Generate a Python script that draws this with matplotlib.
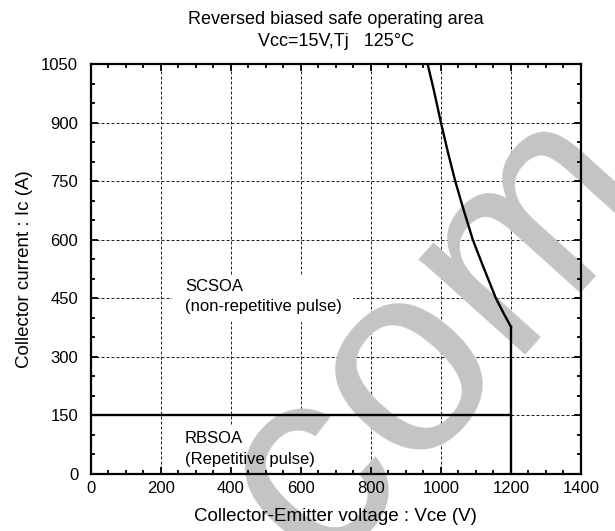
import numpy as np
import matplotlib
matplotlib.use('Agg')
from matplotlib import pyplot as plt
from matplotlib.patches import Rectangle
from matplotlib.ticker import MultipleLocator

plt.rcParams['font.family'] = ['Liberation Sans', 'DejaVu Sans']

# curve (Vce, Ic)
curve_v = [962, 980, 1000, 1020, 1040, 1062, 1091, 1120, 1157, 1180, 1200]
curve_i = [1050, 982, 900, 824, 753, 685, 600, 533, 450, 410, 377]
rbsoa_i = 150
vmax = 1200

xticks = [0, 200, 400, 600, 800, 1000, 1200, 1400]
yticks = [0, 150, 300, 450, 600, 750, 900, 1050]

fig = plt.figure(figsize=(6.15, 5.31), dpi=100)
ax = fig.add_axes([0.1475, 0.1073, 0.7972, 0.7722])
ax.set_facecolor('none')
ax.set_xlim(0, 1400)
ax.set_ylim(0, 1050)

# dashed grid drawn by hand so that it sits under the watermark
for x in xticks[1:-1]:
    ax.axvline(x, color='#222222', lw=0.72, ls=(0, (3, 2)), zorder=0.5)
for y in yticks[1:-1]:
    ax.axhline(y, color='#222222', lw=0.72, ls=(0, (3, 2)), zorder=0.5)

# white patches where the notes hide the grid
px = 1400 / 490.3
py = 1050 / 410.0
ax.add_patch(Rectangle((81 * px, 152 * py), 181 * px, 47 * py, fc='white', ec='none', zorder=0.8))
ax.add_patch(Rectangle((81 * px, 0), 181 * px, 49 * py, fc='white', ec='none', zorder=0.8))

# watermark
ax.text(0.677, 0.405, 'com', transform=fig.transFigure, fontsize=195, color='#c4c4c4',
        rotation=48, rotation_mode='anchor', ha='center', va='center_baseline',
        clip_on=False, zorder=1)

ax.plot(curve_v, curve_i, color='black', lw=1.7, zorder=2)
ax.plot([vmax, vmax], [0, curve_i[-1]], color='black', lw=1.7, zorder=2)
ax.plot([0, vmax], [rbsoa_i, rbsoa_i], color='black', lw=1.7, zorder=2)

ax.text(269, 479, 'SCSOA', fontsize=12, va='center', zorder=3)
ax.text(269, 428, '(non-repetitive pulse)', fontsize=12, va='center', zorder=3)
ax.text(269, 92, 'RBSOA', fontsize=12, va='center', zorder=3)
ax.text(269, 38, '(Repetitive pulse)', fontsize=12, va='center', zorder=3)

ax.set_xticks(xticks)
ax.set_yticks(yticks)
ax.xaxis.set_minor_locator(MultipleLocator(50))
ax.yaxis.set_minor_locator(MultipleLocator(50))
ax.tick_params(which='both', direction='in', top=True, right=True, width=1.3, labelsize=12)
ax.tick_params(which='major', length=5)
ax.tick_params(which='minor', length=3)
ax.tick_params(axis='x', pad=5)
ax.tick_params(axis='y', pad=9)
for s in ax.spines.values():
    s.set_linewidth(1.6)
    s.set_zorder(2.5)

ax.set_xlabel('Collector-Emitter voltage : Vce (V)', fontsize=13.5, labelpad=9)
ax.set_ylabel('Collector current : Ic (A)', fontsize=13.5, labelpad=6)
ax.set_title('Reversed biased safe operating area\nVcc=15V,Tj   125\u00b0C', fontsize=13, pad=13,
             linespacing=1.35)

fig.savefig('out.png', dpi=100)
